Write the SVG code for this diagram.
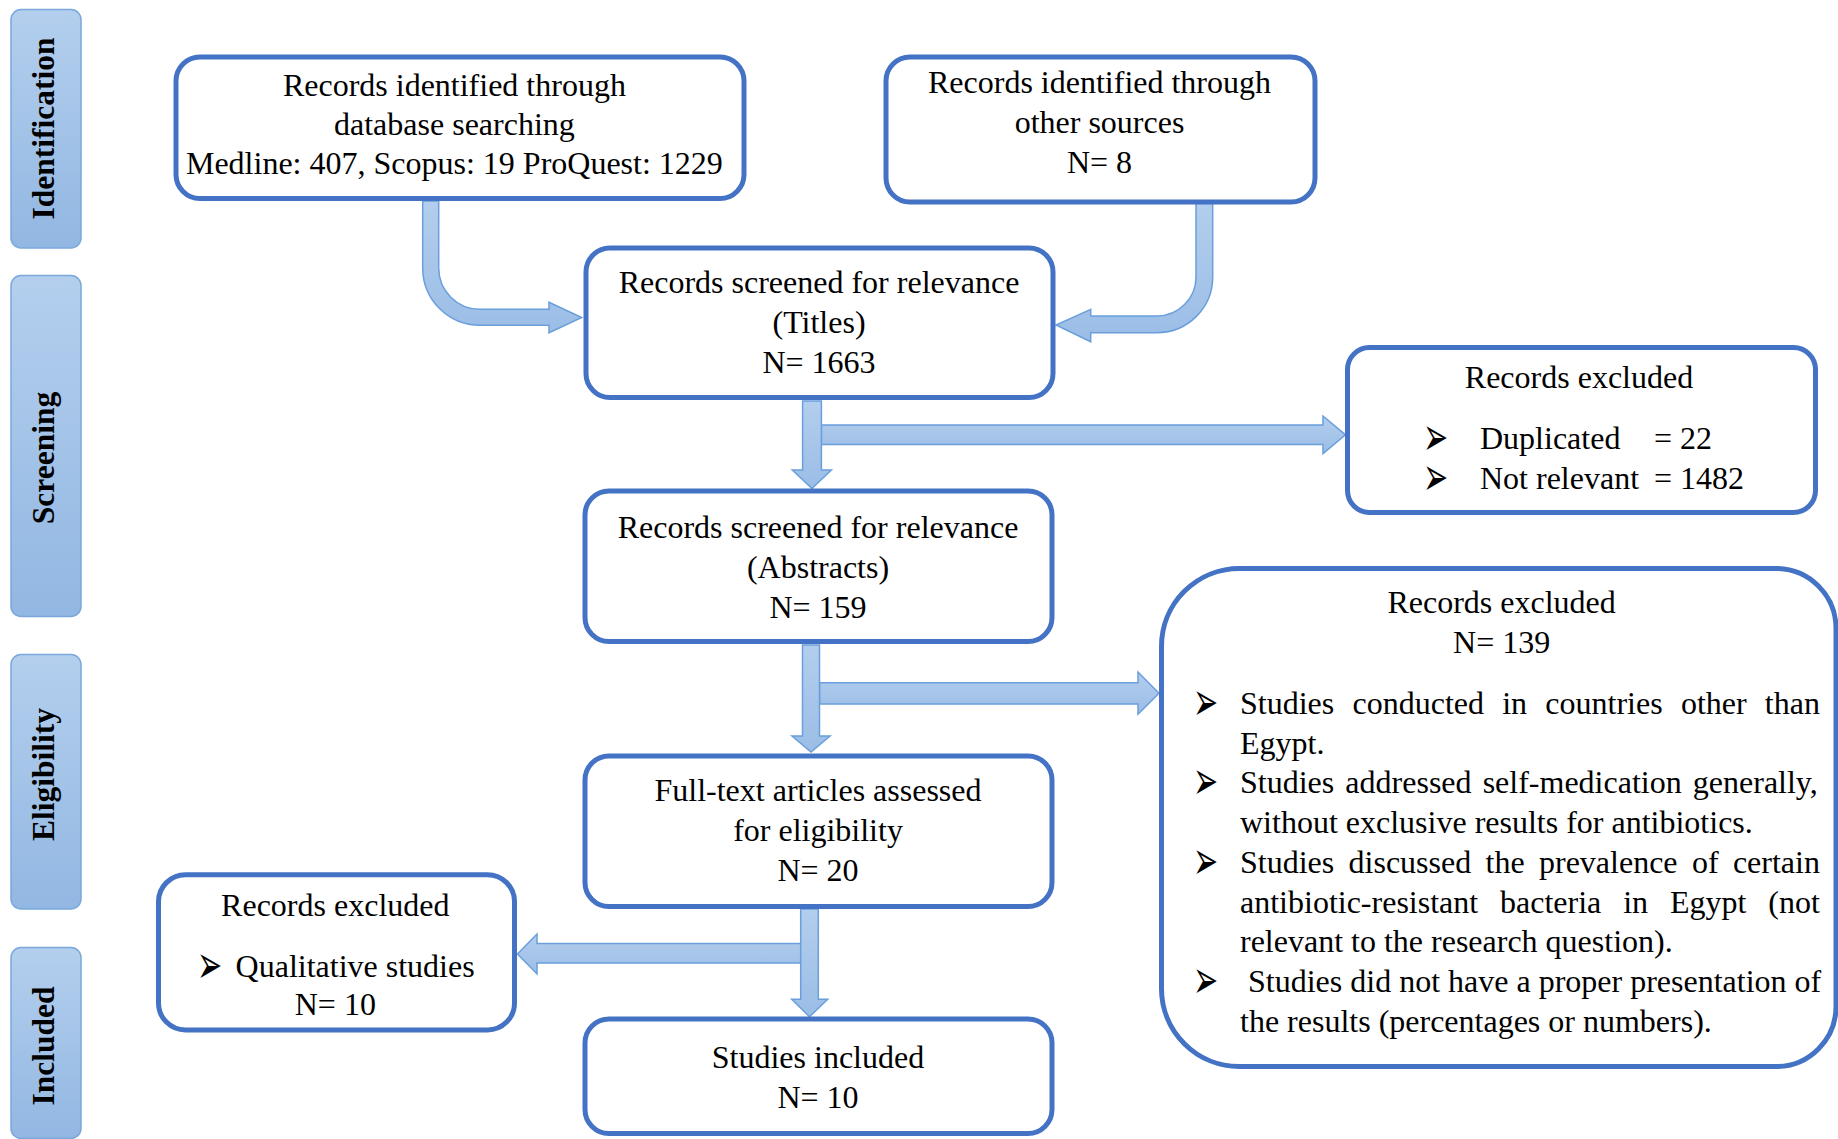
<svg xmlns="http://www.w3.org/2000/svg" width="1838" height="1139" viewBox="0 0 1838 1139">
<defs>
<linearGradient id="gLab" x1="0" y1="0" x2="0" y2="1"><stop offset="0" stop-color="#b4cfee"/><stop offset="1" stop-color="#92b7e2"/></linearGradient>
<linearGradient id="gArr" x1="0" y1="0" x2="0" y2="1"><stop offset="0" stop-color="#b3ceed"/><stop offset="1" stop-color="#9bbde6"/></linearGradient>
<style>
.lab rect{fill:url(#gLab);stroke:#7aa8dc;stroke-width:1.5}
.lab text{font-family:"Liberation Serif","Times New Roman",serif;font-weight:bold;font-size:31.5px;fill:#000;text-anchor:middle}
.box{fill:#fff;stroke:#4472c4;stroke-width:5}
.t{font-family:"Liberation Serif","Times New Roman",serif;font-size:32px;fill:#000}
.c{text-anchor:middle}
.arr{fill:url(#gArr);stroke:#6a9fdb;stroke-width:1.5}
.bul{font-family:"DejaVu Sans",sans-serif;font-size:30px;fill:#000}
</style>
</defs>
<rect width="1838" height="1139" fill="#fff"/>

<g id="labels">
<g id="label-identification" class="lab"><rect x="11" y="9.5" width="70" height="238.5" rx="10"/><text transform="translate(53.5,128.5) rotate(-90)">Identification</text></g>
<g id="label-screening" class="lab"><rect x="11" y="275.5" width="70" height="341" rx="10"/><text transform="translate(53.5,458) rotate(-90)">Screening</text></g>
<g id="label-eligibility" class="lab"><rect x="11" y="654.5" width="70" height="254.5" rx="10"/><text transform="translate(53.5,774.5) rotate(-90)">Eligibility</text></g>
<g id="label-included" class="lab"><rect x="11" y="947.5" width="70" height="191" rx="10"/><text transform="translate(53.5,1046) rotate(-90)">Included</text></g>
</g>

<g id="connectors">
<path class="arr" d="M422.7 201 L422.7 268 A57.3 57.3 0 0 0 480 325.3 L549 325.3 L549 332.7 L581.7 317.5 L549 302.3 L549 309.3 L480 309.3 A41.3 41.3 0 0 1 438.7 268 L438.7 201 Z"/>
<path class="arr" d="M1212.7 203 L1212.7 277 A55.7 55.7 0 0 1 1157 332.7 L1090.7 332.7 L1090.7 341.7 L1056 325 L1090.7 309.3 L1090.7 316 L1157 316 A39 39 0 0 0 1196 277 L1196 203 Z"/>
<polygon class="arr" points="821.4,425 1323,425 1323,416 1345.5,434.8 1323,453.6 1323,444.5 821.4,444.5"/>
<polygon class="arr" points="802.6,401 821.4,401 821.4,470 831.4,470 811.9,488.5 792.3,470 802.6,470"/>
<polygon class="arr" points="819.5,682.7 1138,682.7 1138,672 1159,693.2 1138,714.3 1138,704 819.5,704"/>
<polygon class="arr" points="802.5,645 819.5,645 819.5,736 830,736 811,752 792,736 802.5,736"/>
<polygon class="arr" points="801,943.5 537,943.5 537,934 517.5,954 537,974 537,963 801,963"/>
<polygon class="arr" points="800.7,909 818.3,909 818.3,999.3 827.7,999.3 809.5,1016.7 791.7,999.3 800.7,999.3"/>
</g>

<g id="node-database">
<rect class="box" x="176" y="57" width="568" height="141.5" rx="24"/>
<text class="t c" x="454.4" y="95.5">Records identified through</text>
<text class="t c" x="454.4" y="134.5">database searching</text>
<text class="t c" x="454.4" y="174">Medline: 407, Scopus: 19 ProQuest: 1229</text>
</g>

<g id="node-other">
<rect class="box" x="886" y="57" width="429" height="145" rx="24"/>
<text class="t c" x="1099.5" y="93">Records identified through</text>
<text class="t c" x="1099.5" y="133">other sources</text>
<text class="t c" x="1099.5" y="173">N= 8</text>
</g>

<g id="node-titles">
<rect class="box" x="586" y="248" width="467" height="149.5" rx="24"/>
<text class="t c" x="819" y="293">Records screened for relevance</text>
<text class="t c" x="819" y="333">(Titles)</text>
<text class="t c" x="819" y="372.5">N= 1663</text>
</g>

<g id="node-excluded-titles">
<rect class="box" x="1347.5" y="347.5" width="468" height="165" rx="22"/>
<text class="t c" x="1579" y="387.5">Records excluded</text>
<text class="bul" transform="translate(1423,455) scale(1,1.8)">➢</text>
<text class="t" x="1480" y="449">Duplicated<tspan x="1654">= 22</tspan></text>
<text class="bul" transform="translate(1423,494.5) scale(1,1.8)">➢</text>
<text class="t" x="1480" y="488.5">Not relevant<tspan x="1654">= 1482</tspan></text>
</g>

<g id="node-abstracts">
<rect class="box" x="585" y="491" width="467" height="150.5" rx="24"/>
<text class="t c" x="818" y="537.5">Records screened for relevance</text>
<text class="t c" x="818" y="577.5">(Abstracts)</text>
<text class="t c" x="818" y="617.5">N= 159</text>
</g>

<g id="node-excluded-abstracts">
<path class="box" d="M1239.5 568.5 H1776 A60 60 0 0 1 1836 628.5 V1006.5 A60 60 0 0 1 1776 1066.5 H1239.5 A78 78 0 0 1 1161.5 988.5 V646.5 A78 78 0 0 1 1239.5 568.5 Z"/>
<text class="t c" x="1501.6" y="612.5">Records excluded</text>
<text class="t c" x="1501.6" y="653">N= 139</text>
<text class="bul" transform="translate(1193,720) scale(1,1.8)">➢</text>
<text class="t" x="1240" y="714" word-spacing="10.24">Studies conducted in countries other than</text>
<text class="t" x="1240" y="753.7">Egypt.</text>
<text class="bul" transform="translate(1193,799.4) scale(1,1.8)">➢</text>
<text class="t" x="1240" y="793.4" word-spacing="3.13">Studies addressed self-medication generally,</text>
<text class="t" x="1240" y="833.1">without exclusive results for antibiotics.</text>
<text class="bul" transform="translate(1193,878.8) scale(1,1.8)">➢</text>
<text class="t" x="1240" y="872.8" word-spacing="6.34">Studies discussed the prevalence of certain</text>
<text class="t" x="1240" y="912.5" word-spacing="13.9">antibiotic-resistant bacteria in Egypt (not</text>
<text class="t" x="1240" y="952.2">relevant to the research question).</text>
<text class="bul" transform="translate(1193,997.9) scale(1,1.8)">➢</text>
<text class="t" x="1248" y="991.9">Studies did not have a proper presentation of</text>
<text class="t" x="1240" y="1031.6">the results (percentages or numbers).</text>
</g>

<g id="node-fulltext">
<rect class="box" x="585" y="756" width="467" height="150.5" rx="24"/>
<text class="t c" x="818" y="801">Full-text articles assessed</text>
<text class="t c" x="818" y="840.5">for eligibility</text>
<text class="t c" x="818" y="880.5">N= 20</text>
</g>

<g id="node-excluded-fulltext">
<rect class="box" x="158.5" y="874.7" width="356" height="155.3" rx="27"/>
<text class="t c" x="335.3" y="915.5">Records excluded</text>
<text class="bul" transform="translate(197,982.5) scale(1,1.8)">➢</text>
<text class="t" x="235.6" y="976.5">Qualitative studies</text>
<text class="t c" x="335.3" y="1015">N= 10</text>
</g>

<g id="node-included">
<rect class="box" x="585" y="1019" width="467" height="114.5" rx="24"/>
<text class="t c" x="818" y="1067.5">Studies included</text>
<text class="t c" x="818" y="1107.5">N= 10</text>
</g>
</svg>
